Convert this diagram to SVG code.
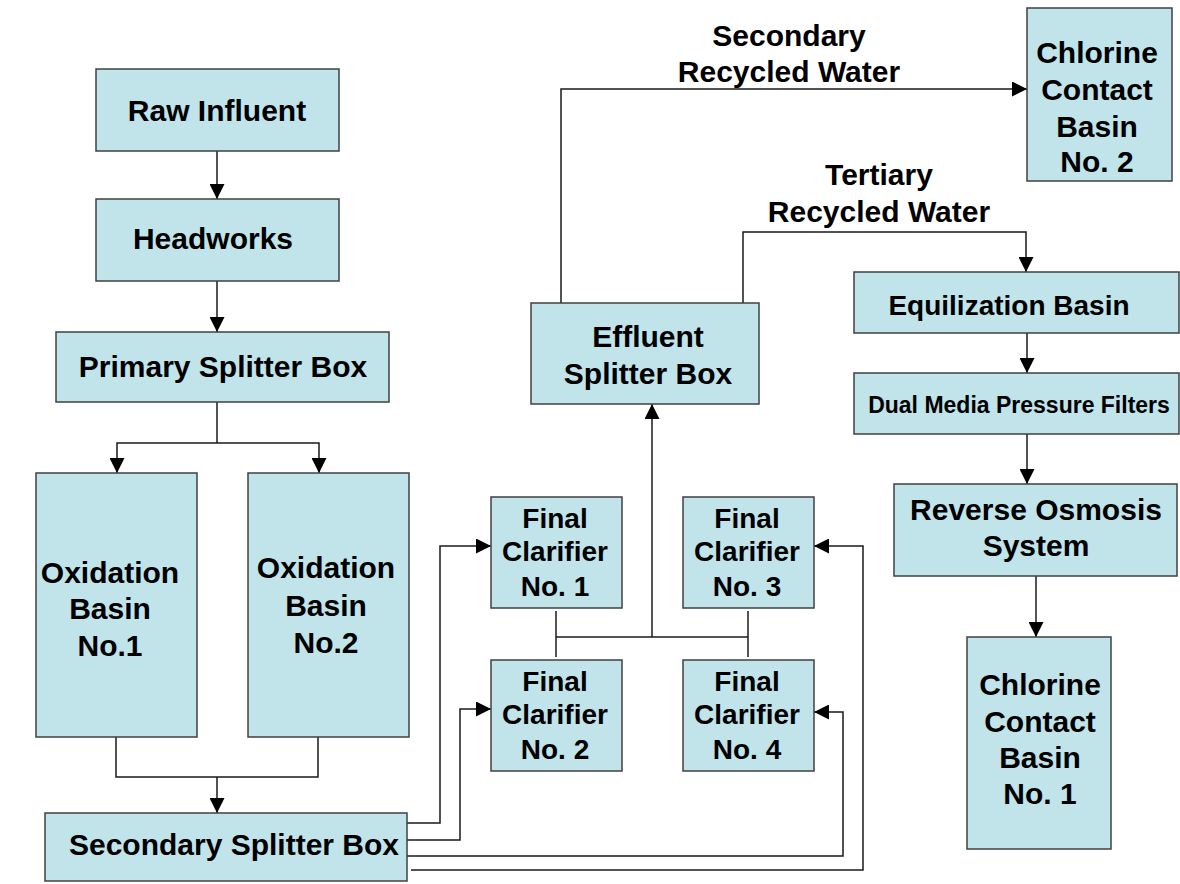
<svg xmlns="http://www.w3.org/2000/svg" width="1180" height="884" viewBox="0 0 1180 884">
<defs>
<style>
.box{fill:#C0E4EA;stroke:#404040;stroke-width:1.5}
.t{font-family:"Liberation Sans",Arial,sans-serif;font-weight:bold;font-size:30px;text-anchor:middle;fill:#000}
.s28{font-size:28px}
.s23{font-size:23px}
.c{fill:none;stroke:#1a1a1a;stroke-width:1.5}
.a{marker-end:url(#arr)}
</style>
<marker id="arr" markerUnits="userSpaceOnUse" markerWidth="15" markerHeight="15" refX="15" refY="7.5" orient="auto">
<path d="M0,0 L15,7.5 L0,15 z" fill="#000"/>
</marker>
</defs>
<rect width="1180" height="884" fill="#fff"/>
<g id="connectors">
<path class="c a" d="M217,151 V199"/>
<path class="c a" d="M217,281 V332"/>
<path class="c" d="M217,402 V443"/>
<path class="c a" d="M217,443 H117 V473"/>
<path class="c a" d="M217,443 H319 V473"/>
<path class="c" d="M116,737 V777 H318 V737"/>
<path class="c a" d="M217,777 V813"/>
<path class="c a" d="M407,823 H440 V546 H491"/>
<path class="c a" d="M407,840 H460 V709 H491"/>
<path class="c a" d="M407,856 H843 V712 H814"/>
<path class="c a" d="M411,870 H863 V546 H814"/>
<path class="c" d="M556,611 V657"/>
<path class="c" d="M748,611 V657"/>
<path class="c" d="M556,637 H748"/>
<path class="c a" d="M652,637 V404"/>
<path class="c a" d="M561,303 V89 H1027"/>
<path class="c a" d="M743,303 V232 H1026 V272"/>
<path class="c a" d="M1027,333 V373"/>
<path class="c a" d="M1027,434 V484"/>
<path class="c a" d="M1036,576 V637"/>
</g>
<g id="raw-influent"><rect class="box" x="96" y="69" width="243" height="82"/><text class="t" x="217" y="121">Raw Influent</text></g>
<g id="headworks"><rect class="box" x="96" y="199" width="243" height="82"/><text class="t" x="213" y="249">Headworks</text></g>
<g id="primary-splitter"><rect class="box" x="56" y="332" width="333" height="70"/><text class="t" x="223" y="377">Primary Splitter Box</text></g>
<g id="oxidation-1"><rect class="box" x="36" y="473" width="161" height="264"/><text class="t" x="110"><tspan x="110" y="583">Oxidation</tspan><tspan x="110" y="619">Basin</tspan><tspan x="110" y="656">No.1</tspan></text></g>
<g id="oxidation-2"><rect class="box" x="248" y="473" width="161" height="264"/><text class="t" x="326"><tspan x="326" y="578">Oxidation</tspan><tspan x="326" y="616">Basin</tspan><tspan x="326" y="653">No.2</tspan></text></g>
<g id="secondary-splitter"><rect class="box" x="45" y="813" width="362" height="68"/><text class="t" x="234" y="855">Secondary Splitter Box</text></g>
<g id="final-clarifier-1"><rect class="box" x="491" y="497" width="131" height="111"/><text class="t s28"><tspan x="555" y="528">Final</tspan><tspan x="555" y="561">Clarifier</tspan><tspan x="555" y="596">No. 1</tspan></text></g>
<g id="final-clarifier-2"><rect class="box" x="491" y="660" width="131" height="111"/><text class="t s28"><tspan x="555" y="691">Final</tspan><tspan x="555" y="724">Clarifier</tspan><tspan x="555" y="759">No. 2</tspan></text></g>
<g id="final-clarifier-3"><rect class="box" x="683" y="497" width="131" height="111"/><text class="t s28"><tspan x="747" y="528">Final</tspan><tspan x="747" y="561">Clarifier</tspan><tspan x="747" y="596">No. 3</tspan></text></g>
<g id="final-clarifier-4"><rect class="box" x="683" y="660" width="131" height="111"/><text class="t s28"><tspan x="747" y="691">Final</tspan><tspan x="747" y="724">Clarifier</tspan><tspan x="747" y="759">No. 4</tspan></text></g>
<g id="effluent-splitter"><rect class="box" x="531" y="303" width="228" height="101"/><text class="t"><tspan x="648" y="347">Effluent</tspan><tspan x="648" y="384">Splitter Box</tspan></text></g>
<g id="label-secondary"><text class="t"><tspan x="789" y="46">Secondary</tspan><tspan x="789" y="82">Recycled Water</tspan></text></g>
<g id="label-tertiary"><text class="t"><tspan x="879" y="185">Tertiary</tspan><tspan x="879" y="222">Recycled Water</tspan></text></g>
<g id="chlorine-contact-2"><rect class="box" x="1027" y="8" width="145" height="173"/><text class="t"><tspan x="1097" y="63">Chlorine</tspan><tspan x="1097" y="100">Contact</tspan><tspan x="1097" y="137">Basin</tspan><tspan x="1097" y="172">No. 2</tspan></text></g>
<g id="equilization-basin"><rect class="box" x="854" y="272" width="325" height="61"/><text class="t s28" x="1009" y="315">Equilization Basin</text></g>
<g id="dual-media"><rect class="box" x="854" y="373" width="325" height="61"/><text class="t s23" x="1019" y="413">Dual Media Pressure Filters</text></g>
<g id="reverse-osmosis"><rect class="box" x="894" y="484" width="283" height="92"/><text class="t"><tspan x="1036" y="520">Reverse Osmosis</tspan><tspan x="1036" y="556">System</tspan></text></g>
<g id="chlorine-contact-1"><rect class="box" x="967" y="637" width="144" height="212"/><text class="t"><tspan x="1040" y="695">Chlorine</tspan><tspan x="1040" y="732">Contact</tspan><tspan x="1040" y="768">Basin</tspan><tspan x="1040" y="804">No. 1</tspan></text></g>
</svg>
